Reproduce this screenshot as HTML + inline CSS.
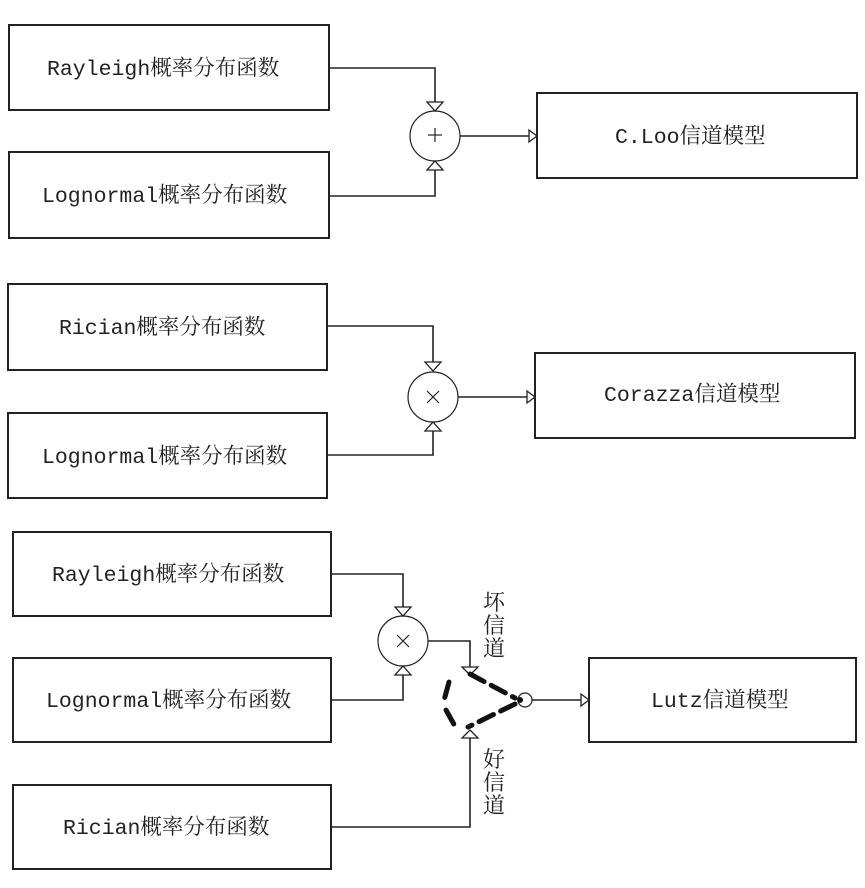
<!DOCTYPE html>
<html><head><meta charset="utf-8"><style>
html,body{margin:0;padding:0;background:#fff;}
svg text{font-family:"Liberation Mono","Noto Serif CJK SC","Noto Sans CJK SC",monospace;fill:#222;}
</style></head><body>
<svg width="865" height="883" viewBox="0 0 865 883" xmlns="http://www.w3.org/2000/svg">
<g fill="#fff" stroke="#222" stroke-width="2">
<rect x="9" y="25" width="320" height="85"/>
<rect x="9" y="152" width="320" height="86"/>
<rect x="537" y="93" width="320" height="85"/>
<rect x="8" y="284" width="319" height="86"/>
<rect x="8" y="413" width="319" height="85"/>
<rect x="535" y="353" width="320" height="85"/>
<rect x="13" y="532" width="318" height="84"/>
<rect x="13" y="658" width="318" height="84"/>
<rect x="13" y="785" width="318" height="84"/>
<rect x="589" y="658" width="267" height="84"/>
</g>
<g fill="none" stroke="#222" stroke-width="1.6">
<polyline points="329,68 435,68 435,102"/>
<polyline points="329,196 435,196 435,170"/>
<circle cx="435" cy="136" r="25" stroke-width="1.2"/>
<line x1="460" y1="136" x2="530" y2="136"/>
<polyline points="327,326 433,326 433,362"/>
<polyline points="327,455 433,455 433,430"/>
<circle cx="433" cy="397" r="25" stroke-width="1.2"/>
<line x1="458" y1="397" x2="528" y2="397"/>
<polyline points="331,574 403,574 403,607"/>
<polyline points="331,700 403,700 403,675"/>
<circle cx="403" cy="641" r="25" stroke-width="1.2"/>
<polyline points="428,641 470,641 470,667"/>
<polyline points="331,827 470,827 470,738"/>
<circle cx="525" cy="700" r="7" stroke-width="1.2"/>
<line x1="532" y1="700" x2="581" y2="700"/>
</g>
<g fill="#fff" stroke="#222" stroke-width="1.3">
<polygon points="427,102 443,102 435,111"/>
<polygon points="427,170 443,170 435,161"/>
<polygon points="529,130 529,142 537,136"/>
<polygon points="425,362 441,362 433,371"/>
<polygon points="425,431 441,431 433,422"/>
<polygon points="527,391 527,403 535,397"/>
<polygon points="395,607 411,607 403,616"/>
<polygon points="395,675 411,675 403,666"/>
<polygon points="462,667 478,667 470,675"/>
<polygon points="462,738 478,738 470,730"/>
<polygon points="581,694 581,706 589,700"/>
</g>
<g stroke="#222" stroke-width="1.2">
<line x1="428" y1="135" x2="442" y2="135"/><line x1="435" y1="128" x2="435" y2="142"/>
<line x1="427" y1="391" x2="439" y2="403"/><line x1="439" y1="391" x2="427" y2="403"/>
<line x1="397" y1="635" x2="409" y2="647"/><line x1="409" y1="635" x2="397" y2="647"/>
</g>
<g stroke="#111" stroke-width="5" stroke-dasharray="16,8" stroke-linecap="round" fill="none">
<line x1="470" y1="674" x2="515" y2="698"/>
<line x1="515" y1="704" x2="468" y2="727"/>
<line x1="449" y1="682" x2="443" y2="704"/>
<line x1="446" y1="710" x2="456" y2="728"/>
</g>
<circle cx="520" cy="700" r="3" fill="#111"/>
<g font-size="21.5">
<text x="47" y="75">Rayleigh概率分布函数</text>
<text x="42" y="202">Lognormal概率分布函数</text>
<text x="59" y="334">Rician概率分布函数</text>
<text x="42" y="463">Lognormal概率分布函数</text>
<text x="52" y="581">Rayleigh概率分布函数</text>
<text x="46" y="707">Lognormal概率分布函数</text>
<text x="63" y="834">Rician概率分布函数</text>
</g>
<g font-size="21.5">
<text x="615" y="143" font-family="Liberation Serif,'Noto Serif CJK SC',serif">C.Loo信道模型</text>
<text x="604" y="401">Corazza信道模型</text>
<text x="651" y="707">Lutz信道模型</text>
</g>
<g font-size="22" font-family="Noto Serif CJK SC,serif">
<text x="483" y="610">坏</text><text x="483" y="633">信</text><text x="483" y="656">道</text>
<text x="483" y="767">好</text><text x="483" y="790">信</text><text x="483" y="813">道</text>
</g>
</svg>
</body></html>
